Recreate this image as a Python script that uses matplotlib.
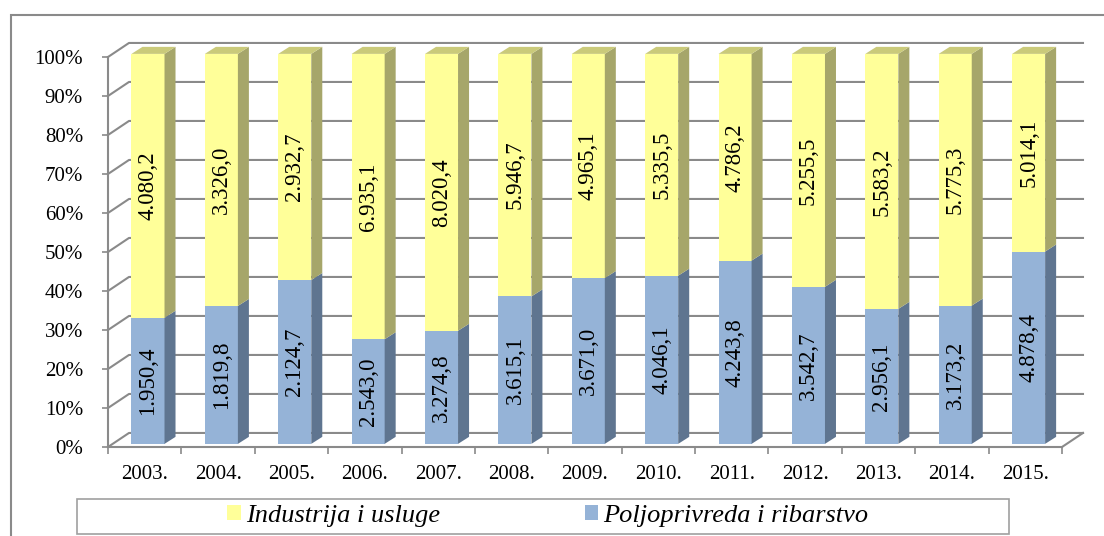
"""
Share of agriculture vs. industry/services, 2003-2015 (100% stacked bars, 3D look).
"""

import numpy as np
import matplotlib.pyplot as plt
from matplotlib.patches import Polygon, Rectangle, Patch

years = ["2003.", "2004.", "2005.", "2006.", "2007.", "2008.", "2009.",
         "2010.", "2011.", "2012.", "2013.", "2014.", "2015."]
poljoprivreda = [1950.4, 1819.8, 2124.7, 2543.0, 3274.8, 3615.1, 3671.0,
                 4046.1, 4243.8, 3542.7, 2956.1, 3173.2, 4878.4]
industrija = [4080.2, 3326.0, 2932.7, 6935.1, 8020.4, 5946.7, 4965.1,
              5335.5, 4786.2, 5255.5, 5583.2, 5775.3, 5014.1]
labels = ["Industrija i usluge", "Poljoprivreda i ribarstvo"]

YELLOW = "#FFFF99"
YELLOW_SIDE = "#A6A66A"
YELLOW_TOP = "#CACA7A"
BLUE = "#95B3D7"
BLUE_SIDE = "#5F7590"
GRID = "#8A8A8A"


def fmt(v):
    s = f"{v:,.1f}"
    return s.replace(",", "X").replace(".", ",").replace("X", ".")


def main():
    plt.rcParams["font.family"] = ["Liberation Serif", "DejaVu Serif"]

    fig = plt.figure(figsize=(11.04, 5.36), dpi=100)
    ax = fig.add_axes([108 / 1104, 1 - 447 / 536, 954 / 1104, 390 / 536])

    n = len(years)
    x = np.arange(n)
    ag = np.array(poljoprivreda)
    ind = np.array(industrija)
    ag_pct = ag / (ag + ind) * 100
    ind_pct = 100 - ag_pct

    # depth of the walls / bars (data units)
    wdx, wdy = 0.286, 3.6
    bdx, bdy = 0.15, 1.8
    offx, offy = 0.045, 0.8
    w = 0.45

    ax.set_xlim(-0.5, n - 0.5)
    ax.set_ylim(0, 100)

    # back wall gridlines
    for g in range(0, 101, 10):
        ax.plot([-0.5, -0.5 + wdx, n - 0.5 + wdx], [g, g + wdy, g + wdy],
                color=GRID, lw=1.5, clip_on=False, zorder=1)
    # floor right edge
    ax.plot([n - 0.5, n - 0.5 + wdx], [0, wdy], color=GRID, lw=1.5,
            clip_on=False, zorder=1)

    xb = x + offx
    b1 = ax.bar(xb, ag_pct, w, bottom=offy, color=BLUE, zorder=3)
    b2 = ax.bar(xb, ind_pct, w, bottom=offy + ag_pct, color=YELLOW, zorder=3)
    for p in list(b1) + list(b2):
        p.set_clip_on(False)

    for i in range(n):
        r = xb[i] + w / 2
        l = xb[i] - w / 2
        y0, y1, y2 = offy, offy + ag_pct[i], offy + 100
        ax.add_patch(Polygon([(r, y0), (r + bdx, y0 + bdy), (r + bdx, y1 + bdy), (r, y1)],
                             closed=True, facecolor=BLUE_SIDE, edgecolor="none",
                             zorder=3, clip_on=False))
        ax.add_patch(Polygon([(r, y1), (r + bdx, y1 + bdy), (r + bdx, y2 + bdy), (r, y2)],
                             closed=True, facecolor=YELLOW_SIDE, edgecolor="none",
                             zorder=3, clip_on=False))
        ax.add_patch(Polygon([(l, y2), (l + bdx, y2 + bdy), (r + bdx, y2 + bdy), (r, y2)],
                             closed=True, facecolor=YELLOW_TOP, edgecolor="none",
                             zorder=3, clip_on=False))
        ax.text(xb[i], offy + ag_pct[i] / 2, fmt(ag[i]), rotation=90,
                ha="center", va="center", fontsize=16.5, zorder=4)
        ax.text(xb[i], offy + ag_pct[i] + ind_pct[i] / 2, fmt(ind[i]), rotation=90,
                ha="center", va="center", fontsize=16.5, zorder=4)

    for side in ["top", "right"]:
        ax.spines[side].set_visible(False)
    for side in ["left", "bottom"]:
        ax.spines[side].set_color(GRID)
        ax.spines[side].set_linewidth(1.5)
        ax.spines[side].set_zorder(2)

    ax.set_yticks(range(0, 101, 10))
    ax.set_yticklabels([f"{v}%" for v in range(0, 101, 10)])
    ax.tick_params(axis="y", length=4, width=1.2, color=GRID, pad=14, labelsize=15)
    ax.set_xticks(x)
    ax.set_xticklabels(years)
    ax.set_xticks(np.arange(-0.5, n, 1.0), minor=True)
    ax.tick_params(axis="x", which="major", length=0, pad=13, labelsize=15)
    ax.tick_params(axis="x", which="minor", length=5, width=1.2, color=GRID)

    # outer chart frame
    fig.patches.append(Rectangle((11 / 1104, -0.1), 1.2, 1.1 - 15 / 536, fill=False,
                                 edgecolor=GRID, lw=1.5, transform=fig.transFigure))
    # legend frame
    fig.patches.append(Rectangle((77 / 1104, 1 - 534 / 536), 932 / 1104, 35 / 536,
                                 fill=False, edgecolor="#A0A0A0", lw=1.2,
                                 transform=fig.transFigure))
    handles = [Patch(facecolor=YELLOW, edgecolor="none"),
               Patch(facecolor=BLUE, edgecolor="none")]
    fig.legend(handles, labels, loc="center", bbox_to_anchor=(548 / 1104, 1 - 516 / 536),
               ncol=2, frameon=False, handlelength=0.5, handleheight=0.5,
               handletextpad=0.2, columnspacing=5.5, borderpad=0,
               prop={"style": "italic", "size": 19})

    fig.savefig("out.png", dpi=100)


if __name__ == "__main__":
    main()
